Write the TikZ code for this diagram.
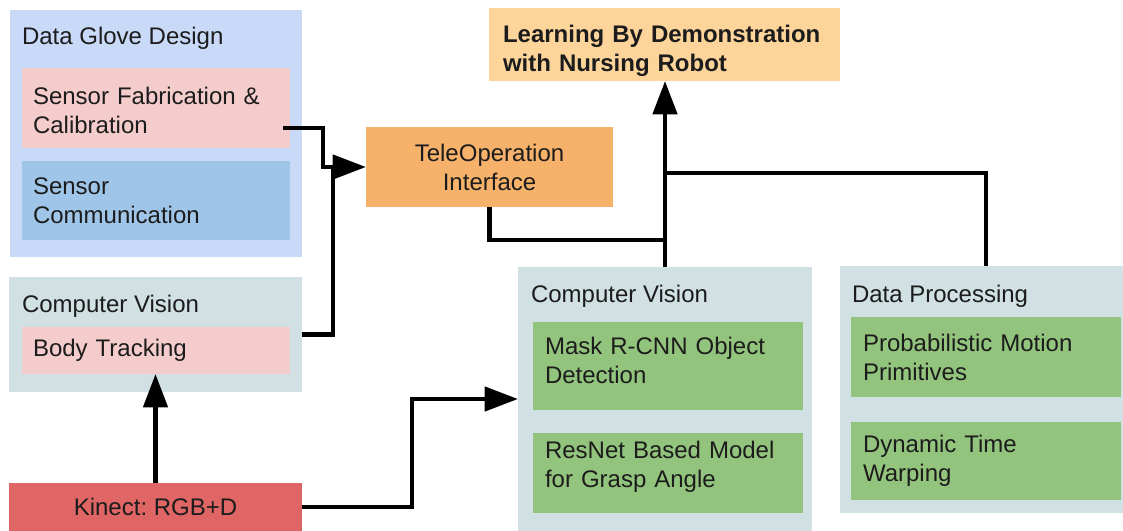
\documentclass[tikz,border=0pt]{standalone}
\usepackage{fontspec}
\setmainfont{Liberation Sans}
\usetikzlibrary{arrows.meta,calc}

\definecolor{glove}{HTML}{C9DAF8}
\definecolor{pinkbox}{HTML}{F4CCCC}
\definecolor{commbox}{HTML}{9FC5E8}
\definecolor{cvbox}{HTML}{D0E0E3}
\definecolor{kinectbox}{HTML}{E06666}
\definecolor{teleopbox}{HTML}{F6B26B}
\definecolor{lbdbox}{HTML}{FDD59B}
\definecolor{greenbox}{HTML}{93C47D}
\definecolor{ink}{HTML}{1C1C1C}
\frenchspacing
% invisible struts that push a text block down (top) or up (bottom)
\newcommand\topstrut[1]{\rule{0pt}{#1}}
\newcommand\botstrut[1]{\rule[-#1]{0pt}{1pt}}

\begin{document}
\begin{tikzpicture}[x=0.75pt,y=-0.75pt,
  every node/.style={font=\fontsize{18pt}{21.75pt}\selectfont, text=ink},
  panel/.style={rectangle, inner sep=0pt, outer sep=0pt, draw=none, anchor=north west},
  size/.style 2 args={minimum width=#1*0.75pt, minimum height=#2*0.75pt},
  caption/.style={anchor=base west, inner sep=0pt, outer sep=0pt},
  link/.style={line width=3.4pt, draw=black},
  tip/.style={-{Triangle[length=25pt,width=18pt]}}
]
\clip (0,0) rectangle (1123,531);

% --- data glove group
\node[panel, fill=glove, size={292}{247}] (glove) at (10,10) {};
\node[caption] (gloveT) at (22,45) {Data Glove Design};
\node[panel, fill=pinkbox, size={268}{80}, text width=184.5pt, align=left] (fab) at (22,68)
  {\topstrut{16pt}Sensor Fabrication \&\\Calibration};
\node[panel, fill=commbox, size={268}{79}, text width=184.5pt, align=left] (comm) at (22,161)
  {Sensor\\Communication};

% --- body tracking group
\node[panel, fill=cvbox, size={293}{115}] (cvl) at (9,277) {};
\node[caption] (cvlT) at (22,312) {Computer Vision};
\node[panel, fill=pinkbox, size={268}{47}, text width=184.5pt, align=left] (body) at (22,327)
  {Body Tracking};

% --- sensor
\node[panel, fill=kinectbox, size={293}{48}, align=center] (kinect) at (9,483) {Kinect: RGB+D};

% --- teleoperation and goal
\node[panel, fill=teleopbox, size={247}{80}, align=center] (tele) at (366,127)
  {TeleOperation\\Interface};
\node[panel, fill=lbdbox, size={351}{73}, text width=242.25pt, align=left,
  font=\fontsize{18pt}{21.75pt}\selectfont\bfseries] (lbd) at (489,8)
  {\topstrut{22pt}Learning By Demonstration\\with Nursing Robot};

% --- object perception group
\node[panel, fill=cvbox, size={294}{264}] (cvr) at (518,267) {};
\node[caption] (cvrT) at (531,302) {Computer Vision};
\node[panel, fill=greenbox, size={270}{88}, text width=184.5pt, align=left] (mask) at (533,322)
  {Mask R-CNN Object\\Detection\botstrut{8.3pt}};
\node[panel, fill=greenbox, size={270}{80}, text width=184.5pt, align=left] (resnet) at (533,433)
  {ResNet Based Model\\for Grasp Angle\botstrut{12.8pt}};

% --- data processing group
\node[panel, fill=cvbox, size={292}{247}] (dp) at (840,266) {};
\node[caption] (dpT) at (852,302) {Data Processing};
\node[panel, fill=greenbox, size={270}{80}, text width=184.5pt, align=left] (promp) at (851,317)
  {Probabilistic Motion\\Primitives};
\node[panel, fill=greenbox, size={270}{78}, text width=184.5pt, align=left] (dtw) at (851,422)
  {Dynamic Time\\Warping};

% --- connectors
\coordinate (fabout) at (283,128);
\coordinate (j1) at (665,240);
\coordinate (j2) at (665,173);

\draw[link, tip] (fabout) -| ($(tele.west)+(-43,0)$) -- (tele.west);
\draw[link] (cvl.east) -| ($(tele.west)+(-33,0)$);
\draw[link, tip] (kinect.north) -- (kinect.north |- body.south);
\draw[link, tip] (kinect.east) -| ($(cvr.west)+(-106,0)$) -- (cvr.west);
\draw[link] (tele.south) |- (j1);
\draw[link, tip] (cvr.north) -- (cvr.north |- lbd.south);
\draw[link] (dp.north) |- (j2);
\end{tikzpicture}
\end{document}
